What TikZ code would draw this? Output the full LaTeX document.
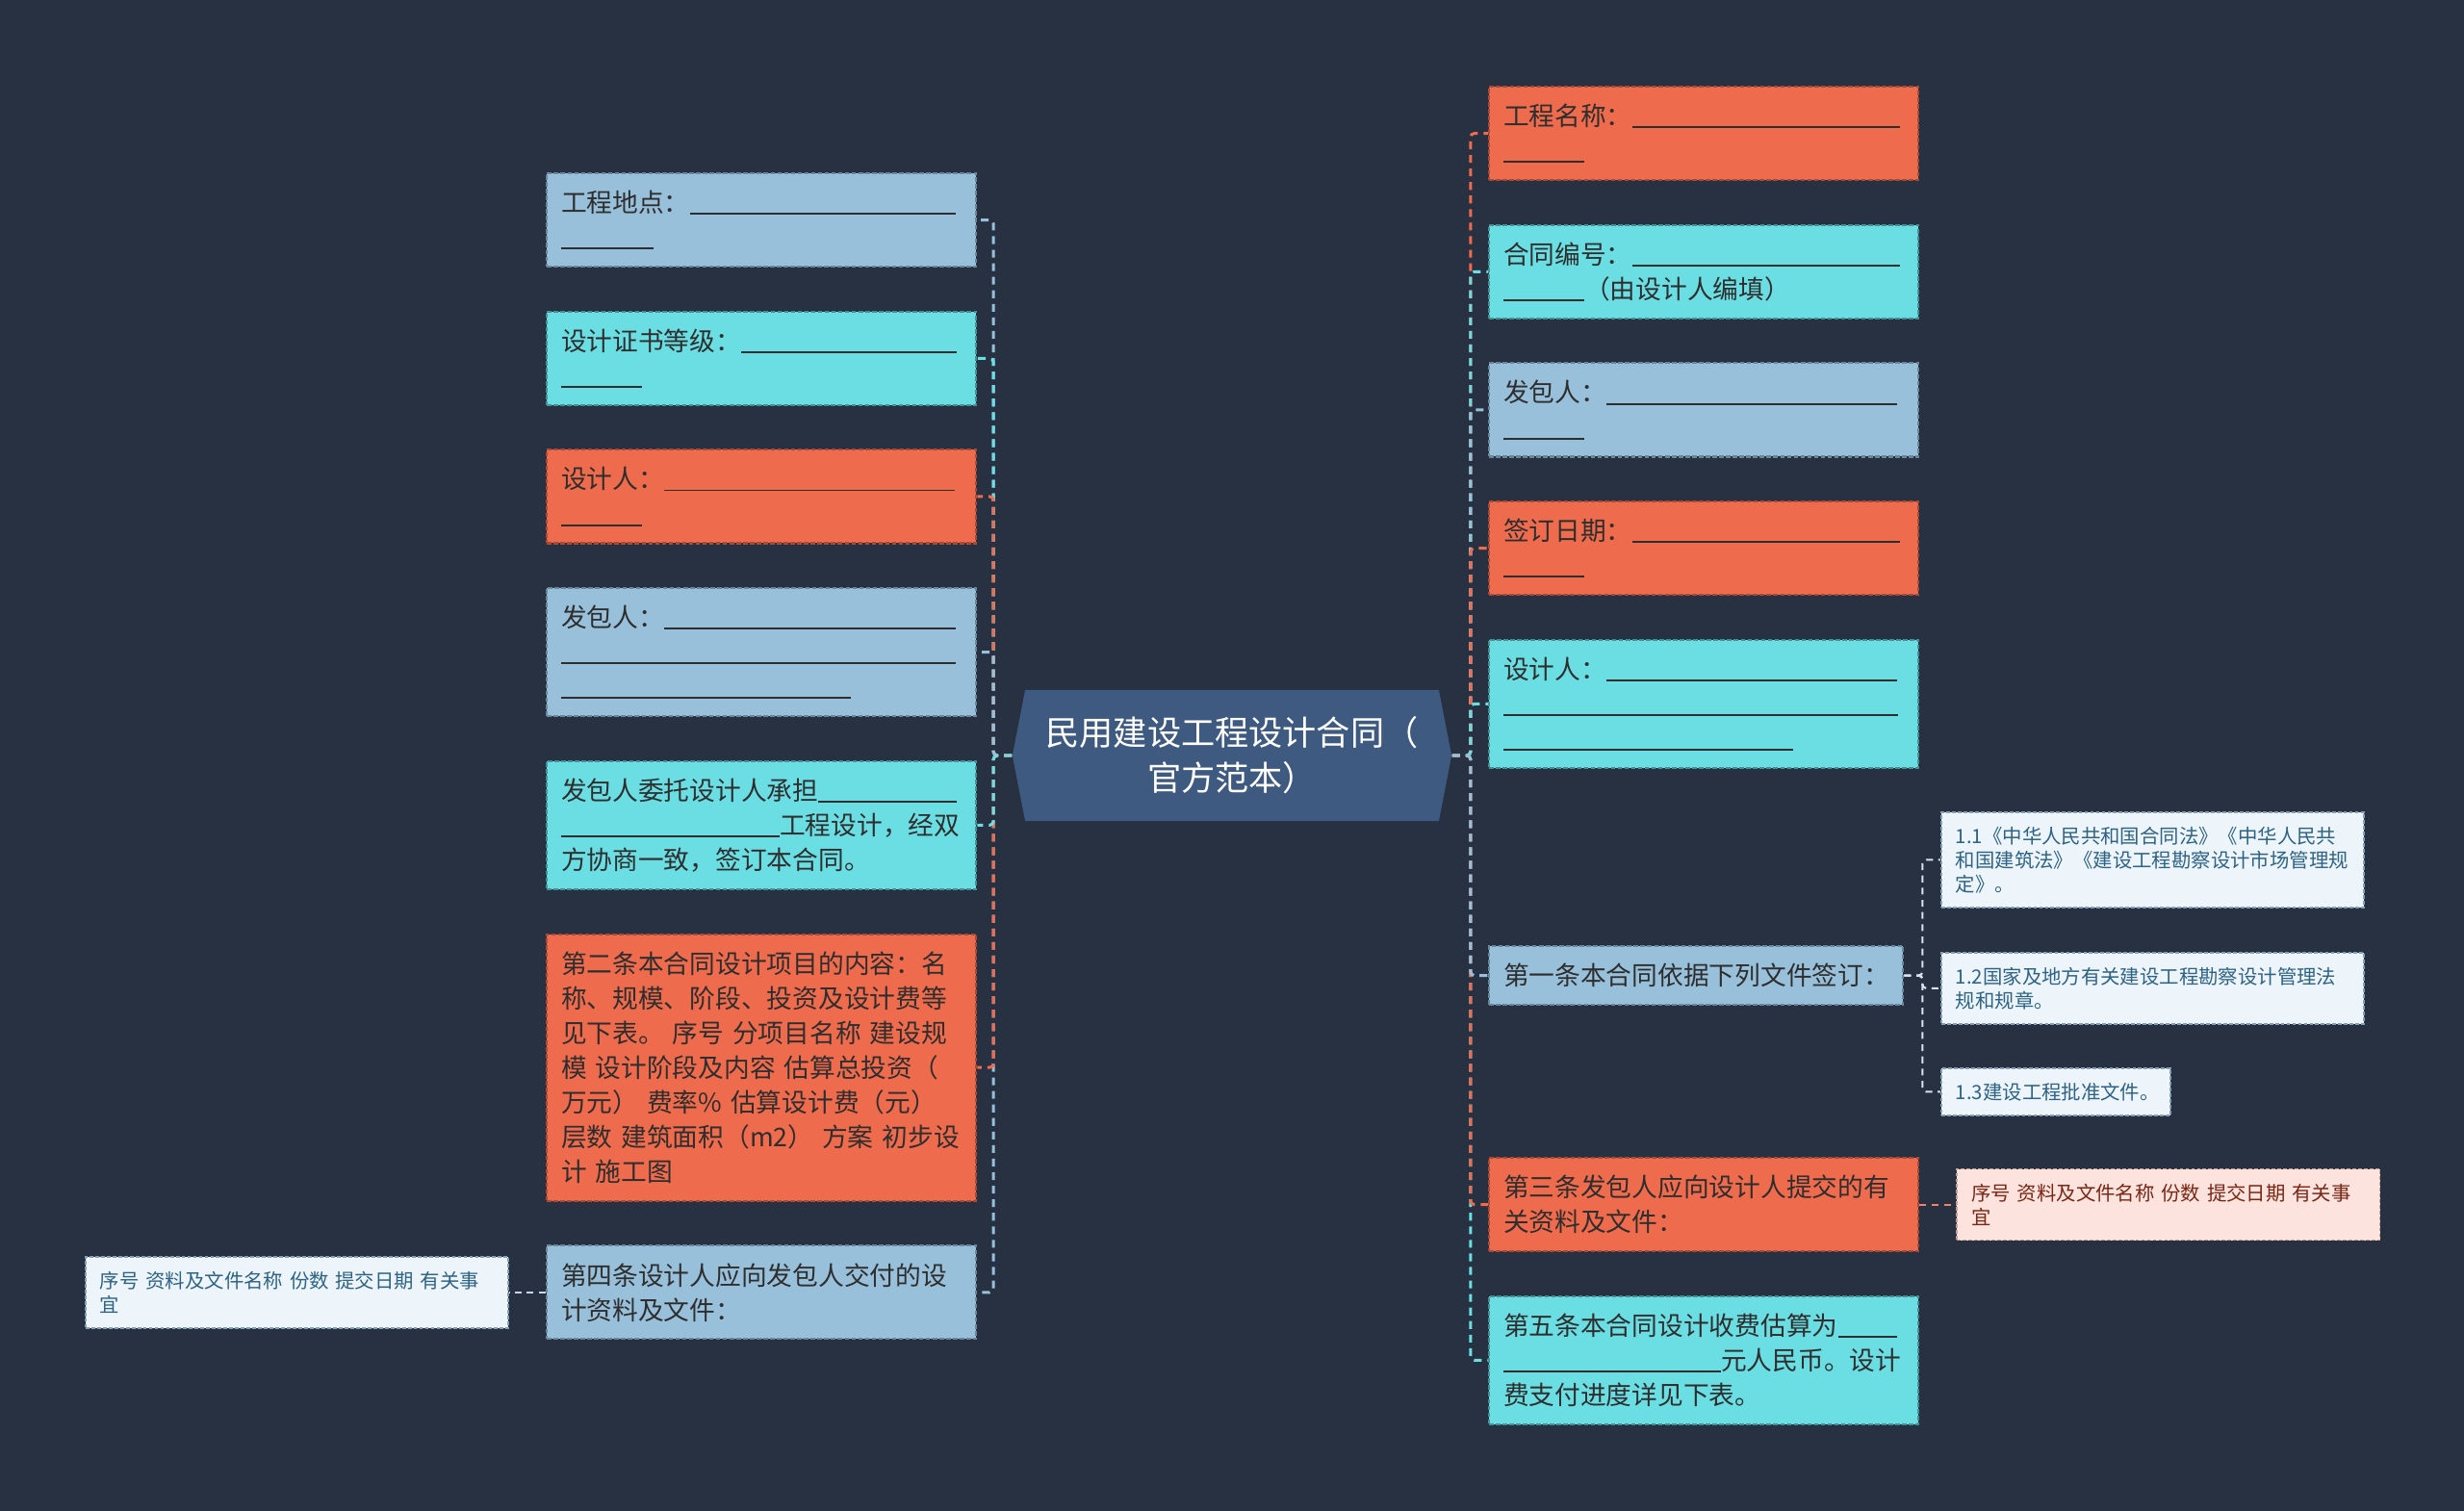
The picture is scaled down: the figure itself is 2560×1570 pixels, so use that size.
\documentclass[tikz,border=0pt]{standalone}
\usepackage{fontspec}
\newfontfamily\cjk{Noto Sans CJK SC}
\usetikzlibrary{shapes,shapes.symbols,positioning}
\definecolor{bgnavy}{HTML}{283142}
\definecolor{rootblue}{HTML}{3E5A80}
\definecolor{boxblue}{HTML}{98C0DA}
\definecolor{boxcyan}{HTML}{6BDEE4}
\definecolor{boxorange}{HTML}{EF6B4D}
\definecolor{leafblue}{HTML}{EDF5FA}
\definecolor{leafpink}{HTML}{FDE3DD}
\definecolor{leafink}{HTML}{2E6386}
\definecolor{leafred}{HTML}{7B2615}
\definecolor{inkdark}{HTML}{2E2E2E}
\definecolor{leaflink}{HTML}{D6E4EE}
\newcommand{\blank}[1]{\rule[-0.1em]{#1}{0.55pt}}

\begin{document}
\begin{tikzpicture}[%
x=0.01cm, y=-0.01cm,
node distance=0.445cm,
mainbox/.style={rectangle, dash pattern=on 1.3pt off 0.7pt, line width=0.6pt,
  text width=4.16cm, inner xsep=0.15cm, inner ysep=0.05cm, align=left,
  font=\cjk\fontsize{7.6pt}{10.25pt}\selectfont, text=inkdark},
rows/.style={minimum height=#1*0.36cm+0.25cm},
bluebox/.style={mainbox, fill=boxblue, draw=boxblue!70!black},
cyanbox/.style={mainbox, fill=boxcyan, draw=boxcyan!65!black},
orangebox/.style={mainbox, fill=boxorange, draw=boxorange!70!black},
leafbox/.style={rectangle, dash pattern=on 1.1pt off 0.6pt, line width=0.5pt,
  text width=4.09cm, inner xsep=0.15cm, inner ysep=0.05cm, align=left,
  font=\cjk\fontsize{5.8pt}{7.1pt}\selectfont,
  fill=leafblue, draw=leafink!60, text=leafink},
leafrows/.style={minimum height=#1*0.25cm+0.24cm},
rootbox/.style={shape=signal, signal to=west and east, signal pointer angle=158,
  fill=rootblue, text=white, align=center, minimum width=4.56cm, minimum height=1.36cm,
  font=\cjk\fontsize{10pt}{13.4pt}\selectfont},
link/.style={dash pattern=on 2.3pt off 1.7pt, line width=0.85pt, rounded corners=0.04cm},
sublink/.style={dash pattern=on 2pt off 1.6pt, line width=0.6pt, rounded corners=0.04cm}
]
\fill[bgnavy] (0,0) rectangle (2560,1570);

\node[rootbox] (root) at (1280,785) {民用建设工程设计合同（\\官方范本）};

% left column
\node[bluebox, rows=2, anchor=north west] (place) at (567,179) {工程地点：\blank{2.76cm}\\\blank{0.96cm}};
\node[cyanbox, rows=2] (grade) [below=of place] {设计证书等级：\blank{2.24cm}\\\blank{0.84cm}};
\node[orangebox, rows=2] (designerL) [below=of grade] {设计人：\blank{3.02cm}\\\blank{0.84cm}};
\node[bluebox, rows=3] (clientL) [below=of designerL] {发包人：\blank{3.03cm}\\\blank{4.10cm}\\\blank{3.01cm}};
\node[cyanbox, rows=3] (entrust) [below=of clientL] {发包人委托设计人承担\blank{1.44cm}\\\blank{2.27cm}工程设计，经双\\方协商一致，签订本合同。};
\node[orangebox, rows=7] (art2) [below=of entrust] {第二条本合同设计项目的内容：名\\称、规模、阶段、投资及设计费等\\见下表。 序号 分项目名称 建设规\\模 设计阶段及内容 估算总投资（\\万元） 费率\% 估算设计费（元）\\层数 建筑面积（m2） 方案 初步设\\计 施工图};
\node[bluebox, rows=2] (art4) [below=of art2] {第四条设计人应向发包人交付的设\\计资料及文件：};
\node[leafbox, leafrows=2] (docsL) [left=0.38cm of art4] {序号 资料及文件名称 份数 提交日期 有关事\\宜};

% right column
\node[orangebox, rows=2, anchor=north west] (name) at (1546,89) {工程名称：\blank{2.78cm}\\\blank{0.84cm}};
\node[cyanbox, rows=2] (number) [below=of name] {合同编号：\blank{2.78cm}\\\blank{0.84cm}（由设计人编填）};
\node[bluebox, rows=2] (clientR) [below=of number] {发包人：\blank{3.02cm}\\\blank{0.84cm}};
\node[orangebox, rows=2] (date) [below=of clientR] {签订日期：\blank{2.78cm}\\\blank{0.84cm}};
\node[cyanbox, rows=3] (designerR) [below=of date] {设计人：\blank{3.02cm}\\\blank{4.10cm}\\\blank{3.01cm}};
\node[bluebox, rows=1, text width=4.00cm, anchor=north west] (art1) at (1546,982) {第一条本合同依据下列文件签订：};
\node[orangebox, rows=2, anchor=north west] (art3) at (1546,1202) {第三条发包人应向设计人提交的有\\关资料及文件：};
\node[cyanbox, rows=3] (art5) [below=of art3] {第五条本合同设计收费估算为\blank{0.61cm}\\\blank{2.26cm}元人民币。设计\\费支付进度详见下表。};
\node[leafbox, leafrows=2, fill=leafpink, draw=leafred!45, text=leafred] (docsR) [right=0.38cm of art3] {序号 资料及文件名称 份数 提交日期 有关事\\宜};

% children of art1
\node[leafbox, leafrows=3, anchor=north west] (law) at (2016,843) {1.1《中华人民共和国合同法》《中华人民共\\和国建筑法》《建设工程勘察设计市场管理规\\定》。};
\node[leafbox, leafrows=2, anchor=north west] (rules) at (2016,989) {1.2国家及地方有关建设工程勘察设计管理法\\规和规章。};
\node[leafbox, leafrows=1, text width=2.08cm, anchor=north west] (approval) at (2016,1109) {1.3建设工程批准文件。};

% links: outer ones first, so the inner colour lies on top
\foreach \kid/\col in {place/boxblue, grade/boxcyan, designerL/boxorange, clientL/boxblue,
    art4/boxblue, art2/boxorange, entrust/boxcyan}
  \draw[link, draw=\col] (root.west) -- ++(-19,0) |- (\kid.east);
\foreach \kid/\col in {name/boxorange, number/boxcyan, clientR/boxblue, date/boxorange,
    designerR/boxcyan, art5/boxcyan, art3/boxorange, art1/boxblue}
  \draw[link, draw=\col] (root.east) -- ++(19,0) |- (\kid.west);

\foreach \kid in {law, rules, approval}
  \draw[sublink, draw=leaflink] (art1.east) -- ++(19,0) |- (\kid.west);
\draw[sublink, draw=boxblue!60!white] (art4.west) -- (docsL.east);
\draw[sublink, draw=boxorange!85!white] (art3.east) -- (docsR.west);
\end{tikzpicture}
\end{document}
